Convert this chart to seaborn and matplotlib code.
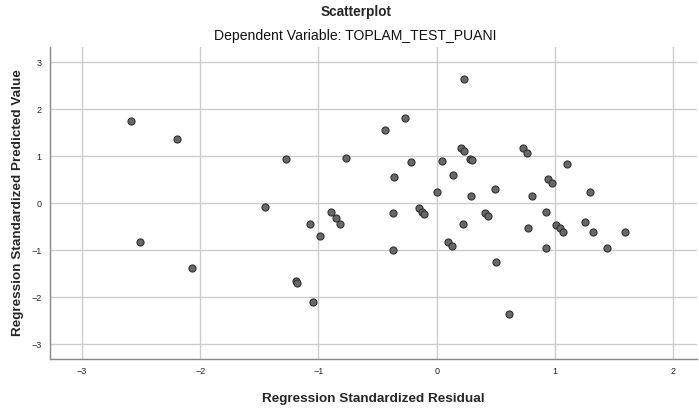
import pandas as pd
import seaborn as sns
import matplotlib.pyplot as plt

# values
resid = [-2.587, -2.200, -1.276, -0.769, -1.454, 0.231, -0.265, -0.440, 0.209, 0.228,
         0.730, 0.767, -0.214, 0.042, 0.285, 0.299, 1.102, -0.363, 0.141, 0.944,
         0.975, 0.003, 0.496, 0.290, 0.806, 1.299, -2.511, -2.069, -1.074, -0.989,
         -0.896, -0.854, -0.814, -1.192, -1.178, -1.042, -0.372, -0.372, -0.150, -0.121,
         -0.107, 0.225, 0.093, 0.127, 0.409, 0.431, 0.499, 0.612, 0.775, 0.927,
         0.921, 1.012, 1.040, 1.065, 1.251, 1.325, 1.437, 1.589]
pred = [1.745, 1.368, 0.930, 0.970, -0.090, 2.650, 1.815, 1.553, 1.163, 1.106,
        1.163, 1.057, 0.872, 0.887, 0.936, 0.908, 0.830, 0.547, 0.596, 0.517,
        0.432, 0.234, 0.305, 0.156, 0.156, 0.240, -0.823, -1.376, -0.454, -0.702,
        -0.199, -0.326, -0.447, -1.660, -1.695, -2.106, -0.206, -0.993, -0.099, -0.184,
        -0.227, -0.440, -0.830, -0.922, -0.206, -0.270, -1.262, -2.362, -0.525, -0.199,
        -0.965, -0.461, -0.539, -0.617, -0.397, -0.610, -0.957, -0.624]
x_ticks = [-3, -2, -1, 0, 1, 2]
y_ticks = [-3, -2, -1, 0, 1, 2, 3]

df = pd.DataFrame({'Residual': resid, 'Predicted': pred})

sns.set_style('white')
plt.rcParams['font.family'] = ['Liberation Sans', 'DejaVu Sans']

fig = plt.figure(figsize=(6.99, 4.09), dpi=100)
ax = fig.add_axes([0.0715, 0.122, 0.9255, 0.764])

sns.scatterplot(data=df, x='Residual', y='Predicted', ax=ax, s=26,
                color='#686868', edgecolor='#303030', linewidth=0.8, zorder=3)

ax.set_xlim(-3.27, 2.2)
ax.set_ylim(-3.32, 3.33)
ax.set_xticks(x_ticks)
ax.set_yticks(y_ticks)
ax.grid(True, color='#cccccc', linewidth=1)
ax.set_axisbelow(True)
ax.tick_params(length=0, labelsize=6.5, colors='#222222', pad=6)

for s in ['top', 'right']:
    ax.spines[s].set_visible(False)
for s in ['left', 'bottom']:
    ax.spines[s].set_color('#888888')
    ax.spines[s].set_linewidth(1)

ax.set_xlabel('Regression Standardized Residual', fontsize=9.7, fontweight='bold', labelpad=12)
ax.set_ylabel('Regression Standardized Predicted Value', fontsize=9.7, fontweight='bold')
ax.yaxis.set_label_coords(-0.040, 0.5)

fig.text(0.509, 0.971, 'Scatterplot', ha='center', va='center', fontsize=9.8, fontweight='bold')
fig.text(0.508, 0.912, 'Dependent Variable: TOPLAM_TEST_PUANI', ha='center', va='center',
         fontsize=10.1, color='#111111')

plt.savefig('out.png', dpi=100)
